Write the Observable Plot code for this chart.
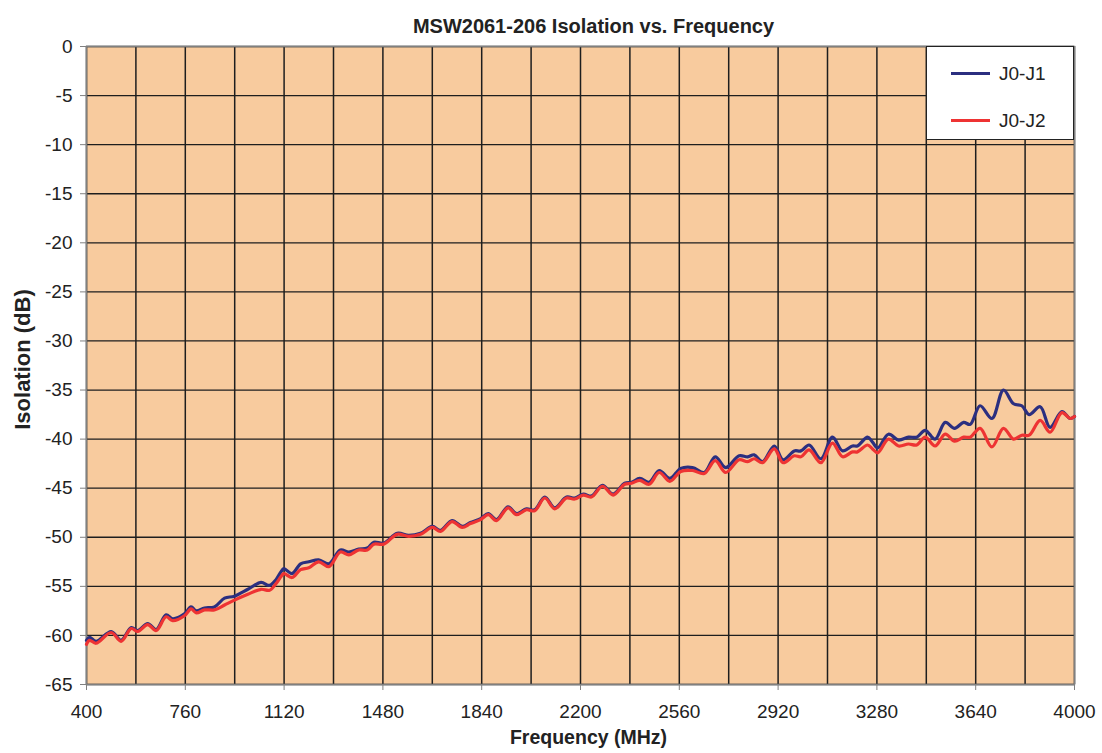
<!DOCTYPE html>
<html>
<head>
<meta charset="utf-8">
<script src="https://cdn.jsdelivr.net/npm/d3@7"></script>
<script src="https://cdn.jsdelivr.net/npm/@observablehq/plot@0.6"></script>
<style>
  html, body { margin: 0; padding: 0; background: #fff; }
  #wrap { position: relative; width: 1102px; height: 753px; font-family: "Liberation Sans", Arial, sans-serif; color: #222; }
  #legend { position: absolute; left: 926px; top: 46px; width: 146px; height: 92px; background: #fff; border: 1.5px solid #222; }
  .lg { position: absolute; left: 24px; font-size: 19px; line-height: 22px; color: #222; white-space: nowrap; }
  .lg .sw { display: inline-block; width: 39px; height: 3px; vertical-align: middle; margin-right: 9px; position: relative; top: -1px; }
</style>
</head>
<body>
<div id="wrap"><div id="chart"></div><div id="legend"></div></div>
<script>
const title = "MSW2061-206 Isolation vs. Frequency";
const xLabel = "Frequency (MHz)";
const yLabel = "Isolation (dB)";
const seriesNames = ["J0-J1", "J0-J2"];
const seriesColors = ["#2b2f80", "#ee3333"];
const xTicks = [400, 760, 1120, 1480, 1840, 2200, 2560, 2920, 3280, 3640, 4000];
const xGrid = [400, 580, 760, 940, 1120, 1300, 1480, 1660, 1840, 2020, 2200, 2380, 2560, 2740, 2920, 3100, 3280, 3460, 3640, 3820, 4000];
const yTicks = [0, -5, -10, -15, -20, -25, -30, -35, -40, -45, -50, -55, -60, -65];

const freq = [400, 411, 435, 490, 526, 563, 587, 623, 654, 690, 714, 757, 781, 800, 830, 866, 903, 939, 988, 1036, 1067, 1091, 1109,
  1119, 1149, 1180, 1210, 1246, 1283, 1325, 1356, 1392, 1423, 1447, 1483, 1532, 1574, 1617, 1660, 1690, 1732, 1769, 1799,
  1836, 1864, 1894, 1936, 1967, 2003, 2033, 2070, 2106, 2149, 2179, 2210, 2240, 2280, 2319, 2361, 2386, 2416, 2450, 2487, 2525,
  2550, 2565, 2608, 2651, 2691, 2729, 2778, 2809, 2833, 2863, 2906, 2938, 2979, 3003, 3033, 3076, 3118, 3155, 3191, 3209, 3246, 3264,
  3283, 3322, 3359, 3395, 3425, 3456, 3492, 3529, 3563, 3596, 3620, 3656, 3699, 3741, 3778, 3808, 3835, 3875, 3911, 3954, 3984, 4000];

const j0j1 = [-60.5, -60.2, -60.6, -59.6, -60.5, -59.2, -59.5, -58.8, -59.4, -57.9, -58.3, -57.8, -57.1, -57.5, -57.2, -57.1, -56.2, -56.0, -55.3, -54.6, -54.9, -54.3, -53.5,
  -53.2, -53.7, -52.7, -52.5, -52.3, -52.7, -51.3, -51.5, -51.2, -51.1, -50.5, -50.6, -49.6, -49.8, -49.6, -48.9, -49.3, -48.3, -48.9, -48.5,
  -48.1, -47.6, -48.2, -46.9, -47.6, -47.1, -47.2, -45.9, -47.0, -45.9, -46.0, -45.6, -45.8, -44.7, -45.6, -44.5, -44.4, -44.0, -44.4, -43.2, -44.0,
  -43.4, -43.0, -42.9, -43.4, -41.8, -42.9, -41.7, -41.8, -41.6, -42.3, -40.7, -42.1, -41.2, -41.2, -40.6, -42.0, -39.8, -41.2, -40.7, -40.7, -39.8, -40.3,
  -40.9, -39.5, -40.1, -39.8, -39.8, -39.1, -40.0, -38.3, -38.9, -38.3, -38.5, -36.6, -37.9, -35.0, -36.4, -36.6, -37.5, -36.7, -38.8, -37.2, -37.9, -37.7];

const j0j2 = [-60.9, -60.5, -60.8, -59.7, -60.6, -59.3, -59.6, -58.9, -59.5, -58.1, -58.5, -58.0, -57.3, -57.7, -57.4, -57.4, -56.9, -56.4, -55.8, -55.3, -55.4, -54.7, -54.0,
  -53.7, -54.1, -53.3, -53.1, -52.5, -53.0, -51.5, -51.8, -51.3, -51.3, -50.7, -50.7, -49.7, -49.9, -49.7, -49.0, -49.4, -48.4, -49.0, -48.6,
  -48.2, -47.7, -48.3, -47.0, -47.7, -47.2, -47.3, -46.0, -47.1, -46.0, -46.1, -45.7, -45.9, -44.8, -45.7, -44.6, -44.5, -44.2, -44.6, -43.4, -44.3,
  -43.7, -43.3, -43.2, -43.5, -42.2, -43.4, -42.1, -42.3, -42.0, -42.4, -41.0, -42.4, -41.7, -41.8, -41.1, -42.4, -40.4, -41.8, -41.3, -41.3, -40.6, -41.0,
  -41.4, -40.0, -40.7, -40.5, -40.6, -39.8, -40.7, -39.5, -40.2, -39.8, -39.8, -38.9, -40.8, -38.9, -40.0, -39.6, -39.6, -38.1, -39.3, -37.3, -37.9, -37.7];

const font = "'Liberation Sans', Arial, sans-serif";

const chart = Plot.plot({
  width: 1102,
  height: 753,
  marginLeft: 86,
  marginRight: 28,
  marginTop: 46,
  marginBottom: 69,
  style: { fontFamily: font, fontSize: "19px", color: "#222", background: "#fff", overflow: "visible" },
  x: { domain: [400, 4000], ticks: xTicks, label: null },
  y: { domain: [-65, 0], ticks: yTicks, label: null },
  marks: [
    Plot.frame({ fill: "#f8cb9e", stroke: null }),
    Plot.gridX(xGrid, { stroke: "#1e1e1e", strokeOpacity: 1, strokeWidth: 1.5 }),
    Plot.gridY(yTicks, { stroke: "#1e1e1e", strokeOpacity: 1, strokeWidth: 1.3 }),
    Plot.frame({ stroke: "#808080", strokeWidth: 1.5 }),
    Plot.axisX(xTicks, { tickSize: 6, tickPadding: 14, stroke: "#808080", fill: "#222", fontSize: 19, tickFormat: d => String(d) }),
    Plot.axisY(yTicks, { tickSize: 6, tickPadding: 8, stroke: "#808080", fill: "#222", fontSize: 19, tickFormat: d => String(d) }),
    Plot.line(freq, { x: d => d, y: j0j1, stroke: seriesColors[0], strokeWidth: 3.2, curve: "catmull-rom" }),
    Plot.line(freq, { x: d => d, y: j0j2, stroke: seriesColors[1], strokeWidth: 3.2, curve: "catmull-rom" }),
    Plot.text([title], { frameAnchor: "top", dx: 13, dy: -28, fontWeight: "bold", fontSize: 20, fill: "#222" }),
    Plot.text([xLabel], { frameAnchor: "bottom", dx: 8, dy: 59, fontWeight: "bold", fontSize: 19.5, fill: "#222" }),
    Plot.text([yLabel], { frameAnchor: "left", textAnchor: "middle", dx: -64, dy: -6, rotate: -90, fontWeight: "bold", fontSize: 22, fill: "#222" })
  ]
});
document.getElementById("chart").appendChild(chart);

const legend = document.getElementById("legend");
seriesNames.forEach((name, i) => {
  const row = document.createElement("div");
  row.className = "lg";
  row.style.top = (16 + i * 47) + "px";
  row.innerHTML = `<span class="sw" style="background:${seriesColors[i]}"></span>${name}`;
  legend.appendChild(row);
});
</script>
</body>
</html>
